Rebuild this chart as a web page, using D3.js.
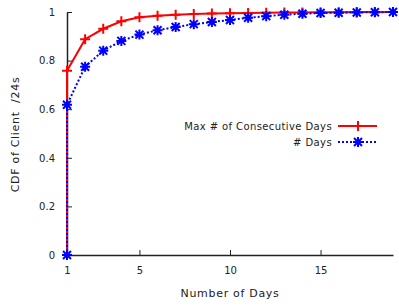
<!DOCTYPE html>
<html>
<head>
<meta charset="utf-8">
<script src="https://cdn.jsdelivr.net/npm/d3@7"></script>
<style>
  body { margin: 0; background: #fff; }
  svg text { font-family: "DejaVu Sans", Verdana, sans-serif; fill: #222; }
  .tick text { font-size: 10px; }
  .title { font-size: 11px; letter-spacing: 0.7px; }
  .legend text { font-size: 10px; letter-spacing: 0.4px; }
</style>
</head>
<body>
<svg id="chart" width="399" height="306"></svg>
<script>
// days on the x axis
var days = [1, 1, 2, 3, 4, 5, 6, 7, 8, 9, 10, 11, 12, 13, 14, 15, 16, 17, 18, 19];
// CDF values
var maxConsecutive = [0, 0.758, 0.888, 0.931, 0.962, 0.978, 0.985, 0.989, 0.992, 0.994, 0.995, 0.996, 0.997, 0.998, 0.998, 0.999, 0.999, 1, 1, 1];
var totalDays = [0, 0.618, 0.775, 0.841, 0.881, 0.907, 0.925, 0.938, 0.950, 0.959, 0.967, 0.976, 0.983, 0.989, 0.993, 0.996, 0.997, 0.998, 0.999, 1];
var seriesNames = ["Max # of Consecutive Days", "# Days"];
var xTicks = [1, 5, 10, 15];
var yTicks = [0, 0.2, 0.4, 0.6, 0.8, 1];

var svg = d3.select("#chart");

var x = d3.scaleLinear().domain([1, 19]).range([67, 393]);
var y = d3.scaleLinear().domain([0, 1]).range([255, 12]);

// axes (only left and bottom border, ticks pointing inward)
var xAxis = svg.append("g")
  .attr("transform", "translate(0,255)")
  .call(d3.axisBottom(x).tickValues(xTicks).tickSizeInner(-5).tickSizeOuter(0).tickPadding(12).tickFormat(d3.format("d")));
var yAxis = svg.append("g")
  .attr("transform", "translate(67,0)")
  .call(d3.axisLeft(y).tickValues(yTicks).tickSizeInner(-5).tickSizeOuter(0).tickPadding(12).tickFormat(function(d) { return d === 0 || d === 1 ? d : d3.format(".1f")(d); }));

[xAxis, yAxis].forEach(function(a) {
  a.attr("font-family", null).attr("font-size", null);
  a.select(".domain").attr("stroke", "#222").attr("stroke-width", 1.5);
  a.selectAll(".tick line").attr("stroke", "#222");
  a.selectAll("text").attr("fill", "#222");
});

var line = d3.line()
  .x(function(d) { return x(d[0]); })
  .y(function(d) { return y(d[1]); });

var redData = days.map(function(d, i) { return [d, maxConsecutive[i]]; });
var blueData = days.map(function(d, i) { return [d, totalDays[i]]; });

function plus(s) {
  return "M" + (-s) + ",0H" + s + "M0," + (-s) + "V" + s;
}
function star(s) {
  var k = s * 0.8;
  return plus(s) + "M" + (-k) + "," + (-k) + "L" + k + "," + k + "M" + (-k) + "," + k + "L" + k + "," + (-k);
}

svg.append("path").datum(redData)
  .attr("d", line).attr("fill", "none").attr("stroke", "#f00").attr("stroke-width", 2);
svg.selectAll(".redpt").data(redData).enter().append("path")
  .attr("transform", function(d) { return "translate(" + x(d[0]) + "," + y(d[1]) + ")"; })
  .attr("d", plus(5))
  .attr("stroke", "#f00").attr("stroke-width", 2).attr("fill", "none");

svg.append("path").datum(blueData)
  .attr("d", line).attr("fill", "none").attr("stroke", "#00f").attr("stroke-width", 2)
  .attr("stroke-dasharray", "2,2");
svg.selectAll(".bluept").data(blueData).enter().append("path")
  .attr("transform", function(d) { return "translate(" + x(d[0]) + "," + y(d[1]) + ")"; })
  .attr("d", star(5))
  .attr("stroke", "#00f").attr("stroke-width", 2).attr("fill", "none");

// axis titles
svg.append("text").attr("class", "title").attr("x", 230).attr("y", 297).attr("text-anchor", "middle").text("Number of Days");
svg.append("text").attr("class", "title").attr("transform", "translate(18.5,134.5) rotate(-90)").attr("text-anchor", "middle").text("CDF of Client  /24s")
  .style("white-space", "pre");

// legend
var legend = svg.selectAll(".legend").data(seriesNames).enter().append("g")
  .attr("class", "legend")
  .attr("transform", function(d, i) { return "translate(0," + (126 + i * 16) + ")"; });
legend.append("text").attr("x", 332).attr("y", 4).attr("text-anchor", "end").text(function(d) { return d; });
legend.append("line").attr("x1", 338).attr("x2", 377)
  .attr("stroke", function(d, i) { return i ? "#00f" : "#f00"; })
  .attr("stroke-width", 2)
  .attr("stroke-dasharray", function(d, i) { return i ? "2,2" : null; });
legend.append("path").attr("transform", "translate(358,0)")
  .attr("d", function(d, i) { return i ? star(5) : plus(5); })
  .attr("stroke", function(d, i) { return i ? "#00f" : "#f00"; })
  .attr("stroke-width", 2).attr("fill", "none");
</script>
</body>
</html>
